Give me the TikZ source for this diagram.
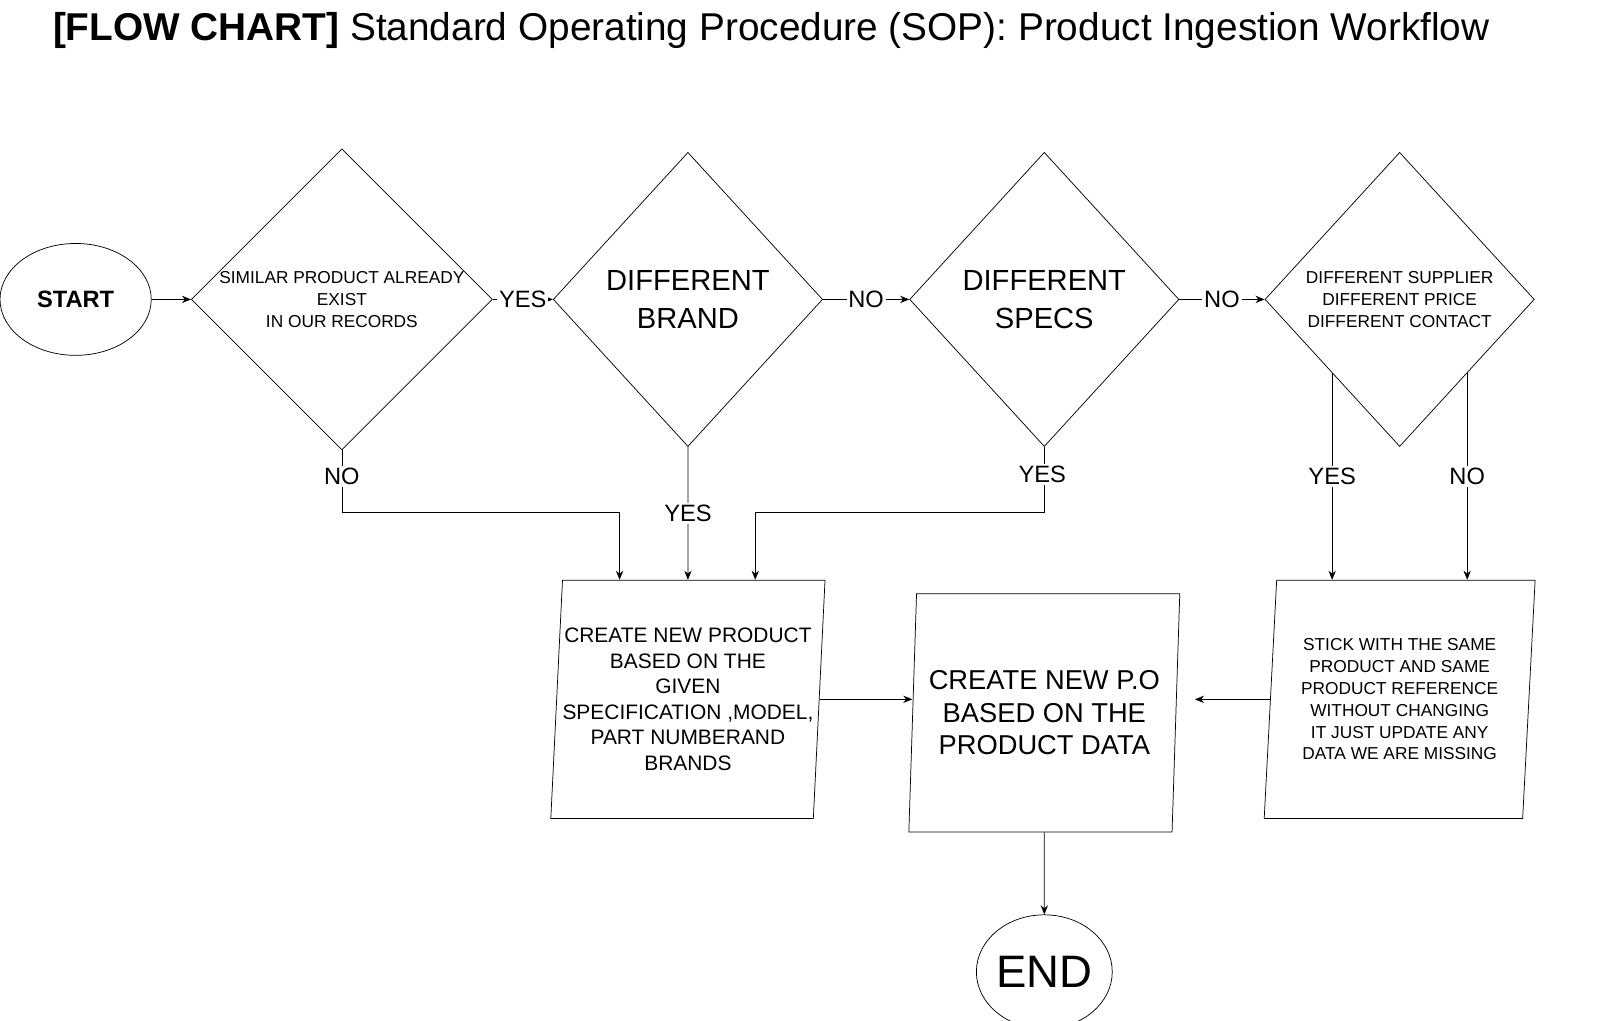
\documentclass[tikz,border=0pt]{standalone}
\usepackage{fontspec}
\setmainfont{Liberation Sans}
\usetikzlibrary{shapes.geometric,arrows.meta}
\tikzset{
  base/.style = {draw=black, align=center, inner sep=0pt},
  dec/.style = {base, diamond, minimum width=5.2cm, minimum height=5.68cm},
  io/.style = {base, trapezium, trapezium left angle=85.3, trapezium right angle=94.7,
    trapezium stretches=true, minimum width=5.24cm, minimum height=4.6cm},
  term/.style = {base, ellipse},
  flow/.style = {-{Stealth[length=5pt,width=4pt]}, thin},
  lbl/.style = {fill=white, inner sep=1pt, font=\fontsize{13}{15}\selectfont},
}
\begin{document}
\begin{tikzpicture}[x=0.02cm, y=-0.02cm]
\useasboundingbox (0,0) rectangle (1555,985);
\node[anchor=west, font=\fontsize{21.3}{24}\selectfont] (title) at (45,29)
  {\textbf{[FLOW CHART]} Standard Operating Procedure (SOP): Product Ingestion Workflow};

% top row
\node[term, minimum width=2.92cm, minimum height=2.16cm, font=\bfseries\fontsize{13}{15}\selectfont] (start) at (73,289) {START};
\node[dec, font=\fontsize{9.5}{12}\selectfont] (d1) at (330,289) {SIMILAR PRODUCT ALREADY\\EXIST\\IN OUR RECORDS};
\node[dec, font=\fontsize{16}{21}\selectfont] (d2) at (664,289) {DIFFERENT\\BRAND};
\node[dec, font=\fontsize{16}{21}\selectfont] (d3) at (1008,289) {DIFFERENT\\SPECS};
\node[dec, font=\fontsize{9.5}{12}\selectfont] (d4) at (1351,289) {DIFFERENT SUPPLIER\\DIFFERENT PRICE\\DIFFERENT CONTACT};

% bottom row
\node[io, font=\fontsize{11.5}{14}\selectfont] (p1) at (664,675)
  {CREATE NEW PRODUCT\\BASED ON THE\\GIVEN\\SPECIFICATION ,MODEL,\\PART NUMBERAND\\BRANDS};
\node[io, font=\fontsize{15}{18}\selectfont] (p2) at (1008,688)
  {CREATE NEW P.O\\BASED ON THE\\PRODUCT DATA};
\node[io, font=\fontsize{9.5}{12}\selectfont] (p3) at (1351,675)
  {STICK WITH THE SAME\\PRODUCT AND SAME\\PRODUCT REFERENCE\\WITHOUT CHANGING\\IT JUST UPDATE ANY\\DATA WE ARE MISSING};
\node[term, minimum width=2.48cm, minimum height=2.2cm, font=\fontsize{25}{28}\selectfont] (end) at (1008,938) {END};

% connectors
\draw[flow] (start) -- (d1);
\draw[flow] (d1) -- node[lbl] {YES} (d2);
\draw[flow] (d2) -- node[lbl] {NO} (d3);
\draw[flow] (d3) -- node[lbl] {NO} (d4);
\draw[flow] (d1.south) -- (330,495) -| ([xshift=-1.32cm]p1.north);
\node[lbl] at (330,460) {NO};
\draw[flow] (d2.south) -- node[lbl, pos=0.5] {YES} (p1.north);
\draw[flow] (d3.south) -- (1008,495) -| ([xshift=1.3cm]p1.north);
\node[lbl] at (1006,458) {YES};
\draw[flow] (d4.south west) -- node[lbl] {YES} (d4.south west |- p3.north);
\draw[flow] (d4.south east) -- node[lbl] {NO} (d4.south east |- p3.north);
\draw[flow] (p1.east) -- (p1.east -| p2.west);
\draw[flow] (p3.west) -- ([xshift=0.36cm]p2.east |- p3.west);
\draw[flow] (p2.south) -- (end);
\end{tikzpicture}
\end{document}
